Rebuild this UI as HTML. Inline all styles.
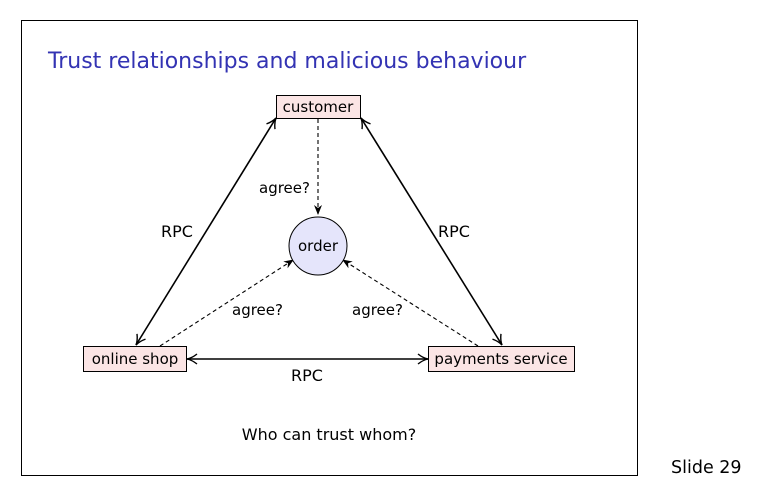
<!DOCTYPE html>
<html><head><style>
body{margin:0;background:#fff;}
svg text{font-family:"DejaVu Sans","Liberation Sans",sans-serif;}
</style></head><body>
<svg width="767" height="496" viewBox="0 0 767 496" xmlns="http://www.w3.org/2000/svg">
<defs>
<marker id="o" viewBox="0 0 12 12" refX="11" refY="6" markerWidth="12" markerHeight="12" orient="auto-start-reverse" markerUnits="userSpaceOnUse">
<path d="M1,1 Q6,5 11,6 Q6,7 1,11" fill="none" stroke="#000" stroke-width="1.4"/></marker>
<marker id="s" viewBox="0 0 10 10" refX="9" refY="5" markerWidth="10" markerHeight="10" orient="auto" markerUnits="userSpaceOnUse">
<path d="M0,1 L10,5 L0,9 L3,5 Z" fill="#000"/></marker>
</defs>
<rect x="21.5" y="20.5" width="616" height="455" fill="#fff" stroke="#000"/>
<text x="48" y="68" font-size="22" fill="#3333b3">Trust relationships and malicious behaviour</text>
<g stroke="#000" stroke-width="1.6" fill="none">
<line x1="136" y1="345" x2="276" y2="118" marker-start="url(#o)" marker-end="url(#o)"/>
<line x1="361" y1="118" x2="502" y2="345" marker-start="url(#o)" marker-end="url(#o)"/>
<line x1="187" y1="359" x2="428" y2="359" marker-start="url(#o)" marker-end="url(#o)"/>
</g>
<g stroke="#000" stroke-width="1.1" stroke-dasharray="4,3" fill="none">
<line x1="318" y1="119" x2="318" y2="214" marker-end="url(#s)"/>
<line x1="160" y1="346" x2="293" y2="260" marker-end="url(#s)"/>
<line x1="478" y1="346" x2="343" y2="260" marker-end="url(#s)"/>
</g>
<rect x="276.5" y="95.5" width="84" height="23" fill="#fbe5e5" stroke="#000"/>
<text x="318" y="112" font-size="15" text-anchor="middle">customer</text>
<circle cx="318" cy="246" r="29" fill="#e5e5fb" stroke="#000"/>
<text x="318" y="251" font-size="15" text-anchor="middle">order</text>
<rect x="83.5" y="346.5" width="103" height="25" fill="#fbe5e5" stroke="#000"/>
<text x="135" y="364" font-size="15" text-anchor="middle">online shop</text>
<rect x="428.5" y="346.5" width="146" height="25" fill="#fbe5e5" stroke="#000"/>
<text x="501" y="364" font-size="15" text-anchor="middle">payments service</text>
<g font-size="16">
<text x="161" y="237">RPC</text>
<text x="438" y="237">RPC</text>
<text x="307" y="381" text-anchor="middle">RPC</text>
</g>
<g font-size="15">
<text x="259" y="193">agree?</text>
<text x="232" y="315">agree?</text>
<text x="352" y="315">agree?</text>
<text x="329" y="440" text-anchor="middle" font-size="16">Who can trust whom?</text>
</g>
<text x="671" y="473" font-size="17.5">Slide 29</text>
</svg>
</body></html>
